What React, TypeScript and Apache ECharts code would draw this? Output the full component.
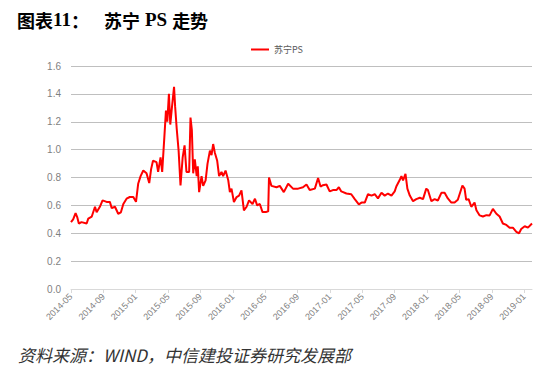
import React, { useEffect, useRef } from "react";
import * as echarts from "echarts";

const seriesName = "苏宁PS";
const yTicks = [0, 0.2, 0.4, 0.6, 0.8, 1.0, 1.2, 1.4, 1.6];

const dates = [
  "2014-05-01", "2014-05-09", "2014-05-18", "2014-05-24", "2014-05-30", "2014-06-10", "2014-06-29", "2014-07-05",
  "2014-07-18", "2014-07-30", "2014-08-06", "2014-08-18", "2014-08-28", "2014-09-13", "2014-09-25", "2014-10-02",
  "2014-10-14", "2014-10-26", "2014-11-06", "2014-11-15", "2014-11-27", "2014-12-09", "2014-12-22", "2015-01-02",
  "2015-01-10", "2015-01-19", "2015-01-29", "2015-02-11", "2015-02-21", "2015-02-28", "2015-03-05", "2015-03-18",
  "2015-03-24", "2015-04-03", "2015-04-09", "2015-04-17", "2015-04-23", "2015-04-28", "2015-05-04", "2015-05-09",
  "2015-05-15", "2015-05-23", "2015-05-27", "2015-06-03", "2015-06-10", "2015-06-17", "2015-06-25", "2015-07-02",
  "2015-07-09", "2015-07-19", "2015-07-24", "2015-07-29", "2015-08-04", "2015-08-10", "2015-08-17", "2015-08-21",
  "2015-08-26", "2015-09-05", "2015-09-11", "2015-09-20", "2015-09-27", "2015-10-06", "2015-10-12", "2015-10-18",
  "2015-10-24", "2015-11-03", "2015-11-10", "2015-11-19", "2015-11-25", "2015-12-04", "2015-12-14", "2015-12-20",
  "2015-12-26", "2016-01-05", "2016-01-15", "2016-01-24", "2016-02-03", "2016-02-12", "2016-02-22", "2016-03-01",
  "2016-03-14", "2016-03-23", "2016-04-01", "2016-04-11", "2016-04-21", "2016-05-03", "2016-05-12", "2016-05-15",
  "2016-05-24", "2016-06-13", "2016-06-25", "2016-07-10", "2016-07-26", "2016-08-14", "2016-09-03", "2016-09-21",
  "2016-10-04", "2016-10-16", "2016-11-05", "2016-11-17", "2016-11-26", "2016-12-05", "2016-12-18", "2016-12-30",
  "2017-01-12", "2017-01-25", "2017-02-04", "2017-02-13", "2017-03-02", "2017-03-20", "2017-04-03", "2017-04-18",
  "2017-04-28", "2017-05-10", "2017-05-22", "2017-06-05", "2017-06-17", "2017-06-29", "2017-07-12", "2017-07-24",
  "2017-08-06", "2017-08-19", "2017-09-01", "2017-09-07", "2017-09-19", "2017-09-26", "2017-10-02", "2017-10-11",
  "2017-10-18", "2017-10-27", "2017-11-09", "2017-11-21", "2017-12-04", "2017-12-16", "2017-12-28", "2018-01-04",
  "2018-01-17", "2018-01-29", "2018-02-11", "2018-02-24", "2018-03-06", "2018-03-18", "2018-04-01", "2018-04-13",
  "2018-04-25", "2018-05-12", "2018-05-20", "2018-05-26", "2018-06-05", "2018-06-15", "2018-06-27", "2018-07-04",
  "2018-07-16", "2018-07-28", "2018-08-11", "2018-08-23", "2018-09-05", "2018-09-18", "2018-09-30", "2018-10-12",
  "2018-10-25", "2018-11-07", "2018-11-19", "2018-12-02", "2018-12-12", "2018-12-20", "2019-01-03", "2019-01-15",
  "2019-01-30",
];

const psValues = [
  0.48, 0.50, 0.545, 0.516, 0.47, 0.48, 0.47, 0.505,
  0.52, 0.59, 0.55, 0.59, 0.636, 0.625, 0.625, 0.58,
  0.59, 0.54, 0.55, 0.61, 0.648, 0.66, 0.66, 0.625,
  0.755, 0.81, 0.85, 0.83, 0.76, 0.86, 0.92, 0.91,
  0.84, 0.945, 0.84, 1.088, 1.28, 1.20, 1.40, 1.18,
  1.30, 1.45, 1.31, 1.148, 0.99, 0.743, 0.945, 1.03,
  0.84, 0.84, 1.23, 1.14, 0.83, 0.93, 0.81, 0.88,
  0.695, 0.81, 0.74, 0.78, 0.898, 0.993, 0.96, 1.04,
  0.98, 0.92, 0.81, 0.84, 0.81, 0.85, 0.78, 0.695,
  0.72, 0.624, 0.66, 0.67, 0.707, 0.564, 0.59, 0.636,
  0.61, 0.648, 0.60, 0.61, 0.552, 0.552, 0.557, 0.80,
  0.74, 0.73, 0.74, 0.695, 0.755, 0.72, 0.72, 0.73,
  0.75, 0.71, 0.72, 0.797, 0.735, 0.745, 0.75, 0.70,
  0.71, 0.71, 0.73, 0.70, 0.685, 0.68, 0.645, 0.607,
  0.62, 0.62, 0.68, 0.67, 0.68, 0.65, 0.69, 0.67,
  0.685, 0.67, 0.70, 0.735, 0.78, 0.81, 0.78, 0.826,
  0.72, 0.67, 0.63, 0.645, 0.655, 0.645, 0.72, 0.71,
  0.63, 0.645, 0.635, 0.69, 0.69, 0.65, 0.62, 0.62,
  0.64, 0.743, 0.72, 0.64, 0.645, 0.59, 0.62, 0.565,
  0.528, 0.52, 0.53, 0.528, 0.575, 0.54, 0.52, 0.47,
  0.46, 0.44, 0.44, 0.41, 0.40, 0.43, 0.45, 0.44,
  0.47,
];

// month index counted from 2014-05
const START_YEAR = 2014;
const START_MONTH = 5;
const toMonthIndex = (d: string) => {
  const [y, m, day] = d.split("-").map(Number);
  return (y - START_YEAR) * 12 + (m - START_MONTH) + (day - 1) / 30;
};
const monthLabel = (idx: number) => {
  const total = START_MONTH - 1 + Math.round(idx);
  const y = START_YEAR + Math.floor(total / 12);
  const m = (total % 12) + 1;
  return `${y}-${m < 10 ? "0" + m : m}`;
};

export default function App() {
  const ref = useRef<HTMLDivElement>(null);
  useEffect(() => {
    if (!ref.current) return;
    const chart = echarts.init(ref.current, undefined, { renderer: "svg" });
    const data = dates.map((d, i) => [toMonthIndex(d), psValues[i]]);
    const xMax = toMonthIndex(dates[dates.length - 1]);
    chart.setOption({
      animation: false,
      backgroundColor: "#ffffff",
      title: [
        {
          text: "{c|图表}{n|11}{c|：}   {c|苏宁} {n|PS} {c|走势}",
          left: 12,
          top: 5,
          textStyle: {
            rich: {
              c: { fontFamily: "Noto Sans CJK SC", fontWeight: "bold", fontSize: 18, color: "#000" },
              n: { fontFamily: "Liberation Serif", fontWeight: "bold", fontSize: 19, color: "#000" },
            },
          },
        },
        {
          text: "资料来源：WIND，中信建投证券研究发展部",
          left: 13,
          top: 341,
          textStyle: {
            fontFamily: "Noto Sans CJK SC",
            fontStyle: "italic",
            fontWeight: "normal",
            fontSize: 17,
            color: "#333",
          },
        },
      ],
      legend: {
        data: [seriesName],
        top: 40,
        left: "center",
        icon: "rect",
        itemWidth: 18,
        itemHeight: 2,
        itemGap: 4,
        textStyle: { fontSize: 9, color: "#595959", fontFamily: "Noto Sans CJK SC" },
      },
      grid: { left: 71, right: 22, top: 66, bottom: 87 },
      xAxis: {
        type: "value",
        min: 0,
        max: xMax,
        interval: 4,
        axisLine: { show: true, lineStyle: { color: "#d9d9d9" } },
        axisTick: { show: true, length: 4, lineStyle: { color: "#d9d9d9" } },
        splitLine: { show: false },
        axisLabel: {
          rotate: 45,
          fontSize: 9,
          color: "#7f7f7f",
          fontFamily: "Liberation Sans",
          margin: 6,
          showMaxLabel: false,
          formatter: (v: number) => monthLabel(v),
        },
      },
      yAxis: {
        type: "value",
        min: yTicks[0],
        max: yTicks[yTicks.length - 1],
        interval: 0.2,
        axisLine: { show: false },
        axisTick: { show: false },
        splitLine: { show: true, lineStyle: { color: "#bfbfbf", width: 1 } },
        axisLabel: {
          fontSize: 10,
          color: "#7f7f7f",
          fontFamily: "Liberation Sans",
          margin: 10,
          formatter: (v: number) => v.toFixed(1),
        },
      },
      series: [
        {
          name: seriesName,
          type: "line",
          data,
          showSymbol: false,
          symbol: "none",
          lineStyle: { color: "#ff0000", width: 2 },
          itemStyle: { color: "#ff0000" },
        },
      ],
    });
    return () => chart.dispose();
  }, []);
  return <div ref={ref} style={{ width: 554, height: 376, position: "absolute", left: 0, top: 0 }} />;
}
